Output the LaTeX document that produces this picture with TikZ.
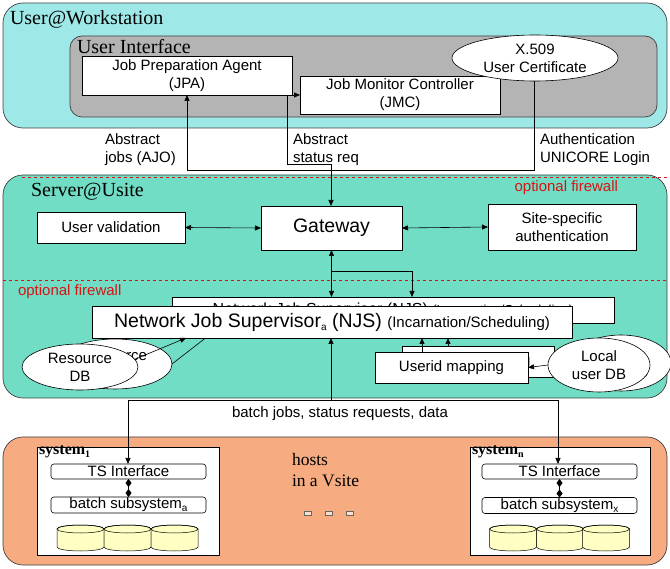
\documentclass[tikz,border=0pt]{standalone}
\usepackage{fontspec}
\setmainfont{Liberation Serif}
\setsansfont{Liberation Sans}
\usetikzlibrary{shapes.geometric,arrows.meta}

\definecolor{wsfill}{RGB}{158,232,232}
\definecolor{uifill}{RGB}{180,180,180}
\definecolor{srvfill}{RGB}{112,221,196}
\definecolor{hostfill}{RGB}{246,172,128}
\definecolor{cylfill}{RGB}{255,255,196}
\definecolor{fwred}{RGB}{215,20,20}

\newcommand\labfont{\sffamily\fontsize{15}{18}\selectfont}
\newcommand\bigfont{\sffamily\fontsize{19.5}{22}\selectfont}
\newcommand\titlefont{\rmfamily\fontsize{20}{22}\selectfont}
\newcommand\subs[1]{\raisebox{-3pt}{\fontsize{10}{10}\selectfont #1}}
\newcommand\dbcyl[2]{%
  \filldraw[fill=cylfill,draw=black,line width=0.5pt]
    (#1-23.5,#2-9) -- (#1-23.5,#2+9) arc[start angle=180,end angle=0,x radius=23.5,y radius=4]
    -- (#1+23.5,#2-9) arc[start angle=0,end angle=-180,x radius=23.5,y radius=4] -- cycle;
  \draw[line width=0.5pt] (#1,#2-9) ellipse[x radius=23.5,y radius=4];}

\begin{document}
\begin{tikzpicture}[x=1pt,y=-1pt,
  >={Triangle[length=6pt,width=5pt]},
  every node/.style={inner sep=0pt,outer sep=0pt},
  panel/.style={draw=black!75,line width=0.7pt,rounded corners=20pt},
  wbox/.style={draw=black,line width=0.6pt,fill=white,align=center,font=\labfont},
  rbox/.style={wbox,rounded corners=3pt},
  oval/.style={ellipse,draw=black,line width=0.6pt,fill=white,align=center,font=\labfont},
  conn/.style={draw=black,line width=0.6pt},
  fw/.style={draw=fwred,dashed,line width=0.6pt},
  fwtext/.style={text=fwred,font=\labfont},
  lab/.style={font=\labfont,align=left,anchor=west},
  title/.style={font=\titlefont,anchor=west},
]
\fill[white] (0,0) rectangle (670,569);
\useasboundingbox (0,0) rectangle (670,569);

% ---------------- User@Workstation
\draw[panel,fill=wsfill] (3,3) rectangle (667,128);
\node[title] (wst) at (10,19) {User@Workstation};
\draw[panel,fill=uifill,rounded corners=12pt] (70,36) rectangle (657,117);
\node[title] (uit) at (77,47) {User Interface};
\node[wbox,minimum width=210pt,minimum height=39pt] (jpa) at (187,75.5) {Job Preparation Agent\\(JPA)};
\node[wbox,minimum width=200pt,minimum height=38pt] (jmc) at (400,95) {Job Monitor Controller\\(JMC)};
\node[oval,minimum width=166pt,minimum height=46pt] (cert) at (535,58) {X.509\\User Certificate};

\node[lab] (l1) at (105,150) {Abstract\\jobs (AJO)};
\node[lab] (l2) at (293,150) {Abstract\\status req};
\node[lab] (l3) at (540,150) {Authentication\\UNICORE Login};

% ---------------- Server@Usite
\draw[panel,fill=srvfill] (3,175) rectangle (667,398);
\draw[fw] (22,177) -- (667,177);
\draw[fw] (3,280) -- (667,280);
\node[fwtext,anchor=east] (fw1) at (618,188) {optional firewall};
\node[fwtext,anchor=west] (fw2) at (18,292) {optional firewall};
\node[title] (srvt) at (31,192) {Server@Usite};

\node[wbox,minimum width=148pt,minimum height=31pt] (uval) at (111,227.5) {User validation};
\node[wbox,minimum width=141pt,minimum height=44pt,font=\bigfont] (gw) at (331.5,228) {Gateway};
\node[wbox,minimum width=148pt,minimum height=46pt] (site) at (562,227) {Site-specific\\authentication};
\draw[conn,<->] (uval.east) -- (gw.west);
\draw[conn,<->] (gw.east) -- (site.west);

% connectors from the workstation
\coordinate (jA) at (187,170);
\coordinate (jB) at (534,170);
\coordinate (sA) at (287,95);
\coordinate (sB) at (287,164);
\coordinate (sC) at (331,164);
\draw[conn,->] (jA) -- (jA |- jpa.south);
\draw[conn] (jA) -- (jB) -- (jB |- cert.south);
\draw[conn,->] (sB) -- (sA) -- (jmc.west |- sA);
\draw[conn,->] (sB) -- (sC) -- (sC |- gw.north);

% NJS (back copy)
\node[wbox,minimum width=442pt,minimum height=26pt,font=\sffamily\fontsize{16}{18}\selectfont] (njsb) at (393,310)
  {Network Job Supervisor (NJS) {\fontsize{13}{15}\selectfont(Incarnation/Scheduling)}};
\coordinate (g1) at (331,271);
\coordinate (g2) at (412,271);
\draw[conn,<->] (gw.south) -- (gw.south |- njsb.north);
\draw[conn,->] (g1) -- (g2) -- (g2 |- njsb.north);

% Resource DB (back copy)
\node[oval,minimum width=114pt,minimum height=50pt] (resb) at (115,364) {Resource\\DB};
\coordinate (rb) at (212,333);
\draw[conn] (resb.east) -- (rb);

% Userid mapping (back copy) and local DB (back copy)
\node[oval,minimum width=100pt,minimum height=56pt] (ldbb) at (621,363) {Local\\user DB};
\node[wbox,minimum width=152pt,minimum height=31pt] (uidb) at (478,361.5) {Userid mapping};

% NJS (front)
\node[wbox,minimum width=480pt,minimum height=32pt,font=\bigfont] (njs) at (332,322)
  {Network Job Supervisor\subs{a} (NJS) {\fontsize{15}{17}\selectfont(Incarnation/Scheduling)}};

\node[oval,minimum width=116pt,minimum height=46pt] (res) at (80,367) {Resource\\DB};
\coordinate (ra) at (186,338);
\draw[conn,->] (res.8) -- (ra);

\node[wbox,minimum width=153pt,minimum height=31pt] (uid) at (451.5,367.5) {Userid mapping};
\node[oval,minimum width=102pt,minimum height=54pt] (ldb) at (599,365) {Local\\user DB};
\draw[conn,->] (ldb.west) -- (uid.east);
\coordinate (u1) at (422,338);
\coordinate (u2) at (448,338);
\draw[conn,->] (u1 |- uid.north) -- (u1);
\draw[conn,->] (u2 |- uidb.north) -- (u2);

% ---------------- hosts in a Vsite
\draw[panel,fill=hostfill] (3,437) rectangle (667,565);
\node[title,font=\rmfamily\fontsize{17.5}{21}\selectfont,align=left] (hosts) at (292,470) {hosts\\in a Vsite};
\foreach \dx [count=\i] in {308,329,350}
  \draw[draw=black!60,fill=white!60!hostfill,line width=0.4pt] (\dx-3.5,511) rectangle (\dx+3.5,515);

\draw[draw=black,line width=0.6pt,fill=white] (37,447) rectangle (219,555);
\node[anchor=north west,font=\rmfamily\bfseries\fontsize{16}{18}\selectfont] (s1) at (39,445) {system\subs{1}};
\node[rbox,minimum width=155pt,minimum height=15pt] (ts1) at (128.5,471.5) {TS Interface};
\node[rbox,minimum width=155pt,minimum height=16pt] (bs1) at (128.5,505) {batch subsystem\subs{a}};
\draw[conn,{Diamond[length=8pt,width=6pt]}-{Diamond[length=8pt,width=6pt]}] (ts1.south) -- (bs1.north);
\dbcyl{80.5}{538}
\dbcyl{127.5}{538}
\dbcyl{174.5}{538}

\draw[draw=black,line width=0.6pt,fill=white] (470,447) rectangle (650,555);
\node[anchor=north west,font=\rmfamily\bfseries\fontsize{16}{18}\selectfont] (sn) at (472,445) {system\subs{n}};
\node[rbox,minimum width=155pt,minimum height=15pt] (tsn) at (559.5,471.5) {TS Interface};
\node[rbox,minimum width=155pt,minimum height=16pt] (bsn) at (559.5,505.5) {batch subsystem\subs{x}};
\draw[conn,{Diamond[length=8pt,width=6pt]}-{Diamond[length=8pt,width=6pt]}] (tsn.south) -- (bsn.north);
\dbcyl{513}{538}
\dbcyl{560}{538}
\dbcyl{606}{538}

% batch connector
\coordinate (b1) at (128,400);
\coordinate (b2) at (558,400);
\coordinate (bm) at (331,400);
\draw[conn,->] (b1) -- (b1 |- ts1.north);
\draw[conn,->] (b2) -- (b2 |- tsn.north);
\draw[conn] (b1) -- (b2);
\draw[conn,->] (bm) -- (bm |- njs.south);
\node[font=\labfont] (bl) at (340,414) {batch jobs, status requests, data};
\end{tikzpicture}
\end{document}
